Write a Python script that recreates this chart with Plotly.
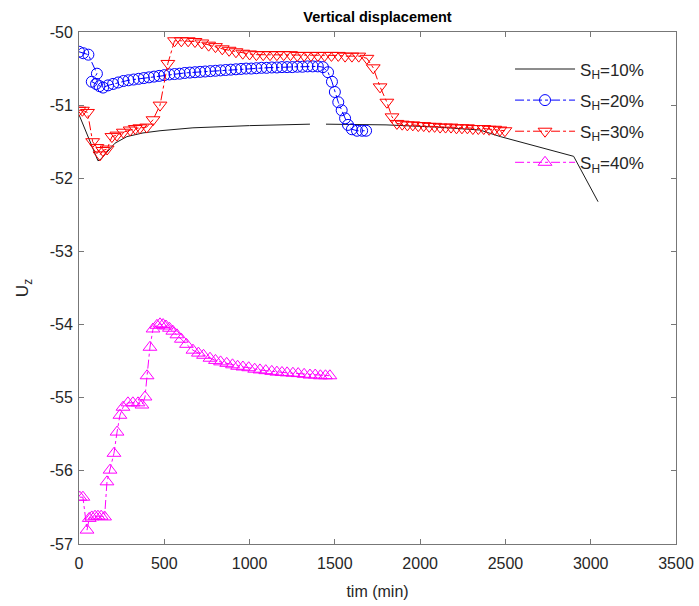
import plotly.graph_objects as go

# ---------------- data ----------------
t_10 = [0, 111, 123, 211, 281, 375, 475, 668, 1000, 1354, None, 1448, 1800, 2100, 2350, 2470, 2900, 3043]
u_10 = [-51.13, -51.76, -51.75, -51.52, -51.43, -51.38, -51.35, -51.31, -51.28, -51.26, None, -51.26, -51.27, -51.30, -51.34, -51.43, -51.70, -52.32]

t_20 = [0, 25, 55, 105, 75, 100, 120, 141, 170, 200, 230, 260, 290, 320, 350, 380, 410, 440,
        470, 500, 530, 560, 590, 620, 650, 680, 710, 740, 770, 800, 830, 860, 890, 920, 950,
        980, 1010, 1040, 1070, 1100, 1130, 1160, 1190, 1220, 1250, 1280, 1310, 1340, 1370,
        1400, 1430, 1460, 1483, 1500, 1520, 1540, 1560, 1577, 1600, 1630, 1660, 1683]
u_20 = [-50.27, -50.29, -50.31, -50.57, -50.68, -50.71, -50.74, -50.76, -50.73, -50.71, -50.69,
        -50.67, -50.66, -50.65, -50.64, -50.63, -50.62, -50.61, -50.60, -50.59, -50.58, -50.575,
        -50.57, -50.56, -50.555, -50.55, -50.545, -50.54, -50.535, -50.53, -50.525, -50.52,
        -50.515, -50.51, -50.505, -50.50, -50.50, -50.495, -50.49, -50.49, -50.485, -50.485,
        -50.48, -50.48, -50.48, -50.475, -50.475, -50.47, -50.47, -50.47, -50.48, -50.55,
        -50.68, -50.82, -50.96, -51.07, -51.18, -51.27, -51.33, -51.35, -51.35, -51.35]

t_30 = [0, 20, 50, 80, 105, 123, 140, 165, 193, 222, 260, 300, 330, 357, 397, 434, 475, 521,
        560, 600, 640, 680, 720, 760, 800, 840, 880, 920, 960, 1000, 1040, 1080, 1120, 1160,
        1200, 1240, 1280, 1320, 1360, 1400, 1440, 1480, 1520, 1560, 1600, 1640, 1688, 1725,
        1765, 1805, 1835, 1864, 1895, 1925, 1957, 1989, 2021, 2053, 2085, 2117, 2149, 2181,
        2213, 2245, 2277, 2309, 2341, 2373, 2405, 2437, 2468, 2497]
u_30 = [-51.07, -51.07, -51.10, -51.50, -51.58, -51.68, -51.62, -51.60, -51.43, -51.41, -51.37,
        -51.34, -51.32, -51.31, -51.30, -51.20, -51.00, -50.43, -50.12, -50.12, -50.12, -50.13,
        -50.15, -50.18, -50.20, -50.23, -50.25, -50.27, -50.29, -50.30, -50.31, -50.31, -50.31,
        -50.31, -50.31, -50.31, -50.32, -50.32, -50.32, -50.32, -50.32, -50.32, -50.32, -50.33,
        -50.33, -50.33, -50.36, -50.49, -50.75, -50.96, -51.16, -51.25, -51.26, -51.27, -51.27,
        -51.28, -51.28, -51.29, -51.29, -51.30, -51.30, -51.30, -51.31, -51.31, -51.31, -51.32,
        -51.32, -51.32, -51.33, -51.33, -51.34, -51.35]

t_40 = [5, 23, 47, 60, 75, 94, 111, 130, 150, 164, 182, 205, 223, 240, 258, 287, 316, 346, 369,
        387, 399, 416, 434, 457, 475, 493, 510, 530, 550, 574, 600, 630, 668, 700, 730, 768,
        800, 830, 866, 900, 930, 961, 995, 1030, 1061, 1095, 1130, 1160, 1190, 1220, 1254,
        1285, 1320, 1354, 1385, 1415, 1445, 1471]
u_40 = [-56.36, -56.36, -56.81, -56.65, -56.63, -56.62, -56.62, -56.62, -56.63, -56.15, -55.99,
        -55.76, -55.47, -55.24, -55.13, -55.07, -55.07, -55.07, -55.10, -54.99, -54.70, -54.31,
        -54.06, -54.01, -53.99, -54.00, -54.02, -54.05, -54.09, -54.14, -54.20, -54.27, -54.35,
        -54.39, -54.42, -54.46, -54.49, -54.51, -54.53, -54.55, -54.57, -54.58, -54.59, -54.61,
        -54.62, -54.63, -54.64, -54.65, -54.655, -54.66, -54.665, -54.67, -54.68, -54.69,
        -54.69, -54.70, -54.70, -54.70]

series_names = ["S<sub>H</sub>=10%", "S<sub>H</sub>=20%", "S<sub>H</sub>=30%", "S<sub>H</sub>=40%"]

x_ticks = [0, 500, 1000, 1500, 2000, 2500, 3000, 3500]
x_tick_labels = ["0", "500", "1000", "1500", "2000", "2500", "3000", "3500"]
y_ticks = [-57, -56, -55, -54, -53, -52, -51, -50]
y_tick_labels = ["-57", "-56", "-55", "-54", "-53", "-52", "-51", "-50"]

# ---------------- figure ----------------
FONT = "Liberation Sans, Arial, sans-serif"
fig = go.Figure()

fig.add_trace(go.Scatter(x=t_10, y=u_10, mode="lines", name=series_names[0], legendgroup="g1",
                         line=dict(color="#1a1a1a", width=1), connectgaps=False))
fig.add_trace(go.Scatter(x=t_20, y=u_20, mode="lines+markers", name=series_names[1], legendgroup="g2",
                         line=dict(color="#0000ff", width=1, dash="dashdot"),
                         marker=dict(symbol="circle-open", size=11, color="#0000ff",
                                     line=dict(width=1, color="#0000ff"))))
fig.add_trace(go.Scatter(x=t_30, y=u_30, mode="lines+markers", name=series_names[2], legendgroup="g3",
                         line=dict(color="#ff0000", width=1, dash="dashdot"),
                         marker=dict(symbol="triangle-down-open", size=12, color="#ff0000",
                                     line=dict(width=1, color="#ff0000"))))
fig.add_trace(go.Scatter(x=t_40, y=u_40, mode="lines+markers", name=series_names[3], legendgroup="g4",
                         line=dict(color="#ff00ff", width=1, dash="dashdot"),
                         marker=dict(symbol="triangle-up-open", size=12, color="#ff00ff",
                                     line=dict(width=1, color="#ff00ff"))))

axis_common = dict(showline=True, linecolor="#777777", linewidth=1, mirror="ticks",
                   ticks="inside", ticklen=5, tickcolor="#777777", showgrid=False,
                   zeroline=False, automargin=False,
                   tickfont=dict(family=FONT, size=16, color="#262626"))

fig.update_layout(
    width=699, height=606,
    margin=dict(l=79, r=23, t=32, b=62),
    paper_bgcolor="white", plot_bgcolor="white",
    font=dict(family=FONT, size=16, color="#262626"),
    title=dict(text="<b>Vertical displacement</b>", x=(79 + 597 / 2) / 699, xanchor="center",
               y=1 - 17 / 606, yanchor="middle", yref="container",
               font=dict(family=FONT, size=14.5, color="#000000")),
    xaxis=dict(range=[0, 3500], tickvals=x_ticks, ticktext=x_tick_labels, ticklabelstandoff=5,
               title=dict(text="tim (min)", standoff=14, font=dict(family=FONT, size=16)),
               **axis_common),
    yaxis=dict(range=[-57, -50], tickvals=y_ticks, ticktext=y_tick_labels, ticklabelstandoff=2,
               title=dict(text="U<sub>z</sub>", standoff=16, font=dict(family=FONT, size=17)),
               **axis_common),
    legend=dict(x=0.722, y=0.962, xanchor="left", yanchor="top", bgcolor="rgba(0,0,0,0)",
                borderwidth=0, itemwidth=60, tracegroupgap=6,
                font=dict(family=FONT, size=17, color="#262626")),
    showlegend=True,
)

fig.write_html("out.html")
